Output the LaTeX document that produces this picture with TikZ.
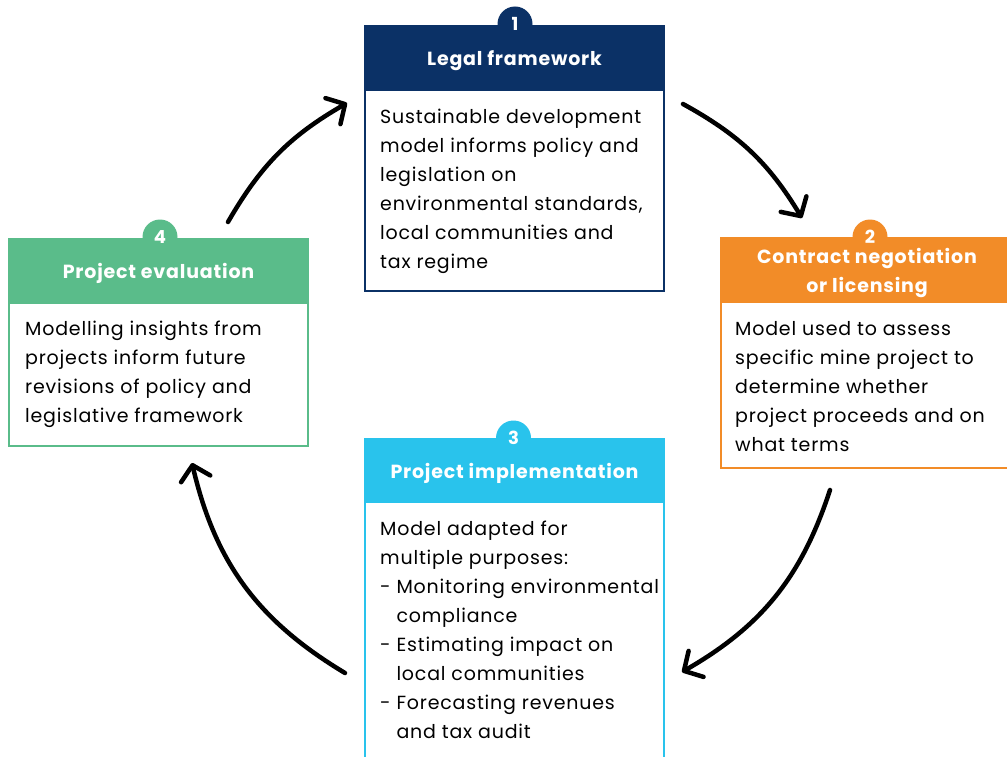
\documentclass[tikz,border=0pt]{standalone}
\usepackage{fontspec}
\setmainfont{Poppins}[LetterSpace=4.2]
\usetikzlibrary{arrows.meta}
\definecolor{navy}{RGB}{11,49,102}
\definecolor{orng}{RGB}{242,140,40}
\definecolor{grn}{RGB}{90,188,138}
\definecolor{cyn}{RGB}{41,195,236}
\begin{document}
\begin{tikzpicture}[x=1pt,y=-1pt,
  frame/.style={draw, line width=2pt},
  badge/.style={circle, minimum size=35pt, inner sep=0pt, text=white,
    font=\bfseries\fontsize{18}{20}\selectfont},
  headtext/.style={text=white, inner sep=0pt, align=center,
    font=\bfseries\fontsize{19}{29}\selectfont},
  body/.style={anchor=base west, inner sep=0pt, text=black,
    font=\fontsize{19}{29}\selectfont},
  cyc/.style={line width=4.5pt, line cap=round,
    -{Straight Barb[length=14pt,width=30pt,round]}}
]
\clip (0,0) rectangle (1007,757);
\fill[white] (0,0) rectangle (1007,757);

% Box 1
\draw[navy, frame] (365,26) rectangle (664,291);
\fill[navy] (365,26) rectangle (664,91);
\node[badge, fill=navy] (b1) at (515,24) {1};
\node[headtext] (h1) at (514.5,61) {Legal framework};
\node[body] (t1) at (380,124) {\parbox[t]{300pt}{\raggedright
Sustainable development\\
model informs policy and\\
legislation on\\
environmental standards,\\
local communities and\\
tax regime}};

% Box 2
\draw[orng, frame] (721,238) rectangle (1020,468);
\fill[orng] (721,238) rectangle (1020,303);
\node[badge, fill=orng] (b2) at (870,237) {2};
\node[headtext] (h2) at (867,273) {Contract negotiation\\or licensing};
\node[body] (t2) at (735,335) {\parbox[t]{300pt}{\raggedright
Model used to assess\\
specific mine project to\\
determine whether\\
project proceeds and on\\
what terms}};

% Box 3
\draw[cyn, frame] (365,439) rectangle (664,770);
\fill[cyn] (365,439) rectangle (664,503);
\node[badge, fill=cyn] (b3) at (513.5,438) {3};
\node[headtext] (h3) at (514.5,473) {Project implementation};
\node[body] (t3) at (380,535) {\parbox[t]{300pt}{\raggedright
Model adapted for\\
multiple purposes:\\
- Monitoring environmental\\
\hphantom{- }compliance\\
- Estimating impact on\\
\hphantom{- }local communities\\
- Forecasting revenues\\
\hphantom{- }and tax audit}};

% Box 4
\draw[grn, frame] (9,239) rectangle (308,446);
\fill[grn] (9,239) rectangle (308,304);
\node[badge, fill=grn] (b4) at (160,237) {4};
\node[headtext] (h4) at (158.5,273) {Project evaluation};
\node[body] (t4) at (25,335) {\parbox[t]{300pt}{\raggedright
Modelling insights from\\
projects inform future\\
revisions of policy and\\
legislative framework}};

% Cycle arrows
\coordinate (a1s) at (228,222);
\coordinate (a1e) at (347,103);
\coordinate (a2s) at (683,104);
\coordinate (a2e) at (802,218);
\coordinate (a3s) at (830,490);
\coordinate (a3e) at (682,672);
\coordinate (a4s) at (345,673);
\coordinate (a4e) at (192,463);
\draw[cyc] (a1s) to[bend left=15] (a1e);
\draw[cyc] (a2s) to[bend left=15] (a2e);
\draw[cyc] (a3s) to[bend left=21] (a3e);
\draw[cyc] (a4s) to[bend left=23] (a4e);
\end{tikzpicture}
\end{document}
